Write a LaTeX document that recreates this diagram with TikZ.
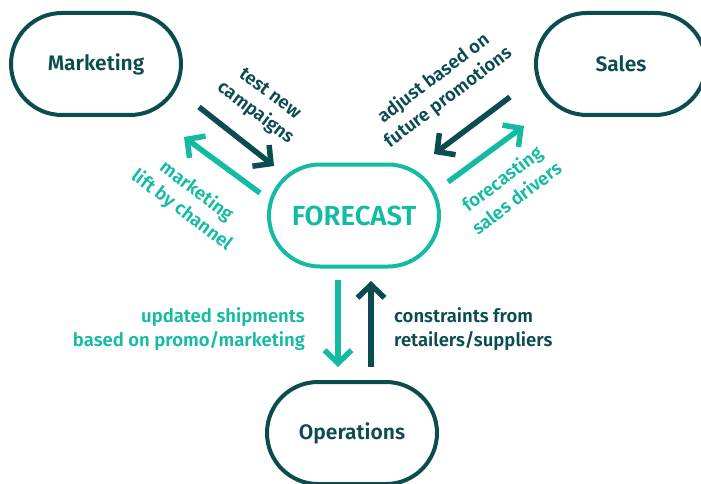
\documentclass[tikz,border=0pt]{standalone}
\usepackage{fontspec}
\setmainfont{Fira Sans}[UprightFont = * SemiBold]
\usetikzlibrary{arrows.meta}
\definecolor{dark}{HTML}{0B4C50}
\definecolor{teal}{HTML}{14BBA3}
\begin{document}
\begin{tikzpicture}[x=1pt,y=-1pt,
  box/.style={draw=dark, line width=4pt, rounded corners=51pt,
    minimum width=170pt, minimum height=102pt, inner sep=0pt,
    text=dark, font=\fontsize{21}{25}\selectfont},
  flow/.style={line width=5.5pt, -{Straight Barb[length=13pt,width=27pt]}},
  lbl/.style={font=\fontsize{18.5}{24}\selectfont, align=center, inner sep=0pt}]
\useasboundingbox (0,0) rectangle (701,484);

% departments around the forecast
\node[box] (mkt) at (96,64) {Marketing};
\node[box] (sales) at (621,64) {Sales};
\node[box] (ops) at (352,433) {Operations};
\node[box, draw=teal, text=teal, font=\fontsize{27.5}{30}\selectfont] (fc) at (354,215.5) {FORECAST};

% arrow end points
\coordinate (a1s) at (199,107); \coordinate (a1e) at (274,166);
\coordinate (a2s) at (260,193); \coordinate (a2e) at (184,137);
\coordinate (a3s) at (510,97);  \coordinate (a3e) at (434,154);
\coordinate (a4s) at (448,182); \coordinate (a4e) at (524,126);
\coordinate (a5s) at (338,280); \coordinate (a5e) at (338,367);
\coordinate (a6s) at (371,367); \coordinate (a6e) at (371,281);

\draw[flow, dark] (a1s) -- (a1e);
\draw[flow, teal] (a2s) -- (a2e);
\draw[flow, dark] (a3s) -- (a3e);
\draw[flow, teal] (a4s) -- (a4e);
\draw[flow, teal] (a5s) -- (a5e);
\draw[flow, dark] (a6s) -- (a6e);

% labels
\node[lbl, text=dark, rotate=-37] (l1) at (262,104) {test new\\campaigns};
\node[lbl, text=teal, rotate=-37] (l2) at (189,201) {marketing\\lift by channel};
\node[lbl, text=dark, rotate=37] (l3) at (441,88) {adjust based on\\future promotions};
\node[lbl, text=teal, rotate=37] (l4) at (509,188) {forecasting\\sales drivers};
\node[lbl, text=teal, align=right, anchor=east] (l5) at (305,329) {updated shipments\\based on promo/marketing};
\node[lbl, text=dark, align=left, anchor=west] (l6) at (394,329) {constraints from\\retailers/suppliers};
\end{tikzpicture}
\end{document}
